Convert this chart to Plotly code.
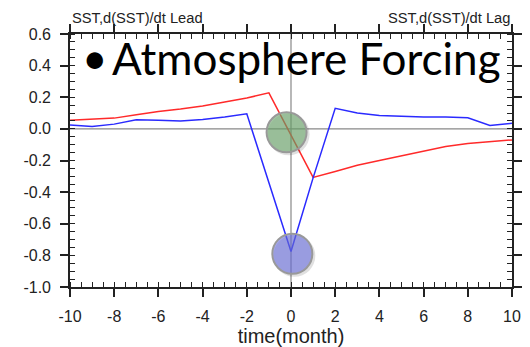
import plotly.graph_objects as go

months = list(range(-10, 11))
red_vals = [0.055, 0.060, 0.068, 0.090, 0.110, 0.125, 0.145, 0.170, 0.195, 0.228, -0.040,
            -0.307, -0.270, -0.230, -0.200, -0.170, -0.140, -0.112, -0.092, -0.080, -0.070]
blue_vals = [0.025, 0.015, 0.030, 0.057, 0.055, 0.050, 0.060, 0.075, 0.095, -0.340, -0.775,
             -0.310, 0.130, 0.100, 0.085, 0.080, 0.075, 0.075, 0.070, 0.022, 0.035]
x_ticks = list(range(-10, 11, 2))
y_ticks = [0.6, 0.4, 0.2, 0.0, -0.2, -0.4, -0.6, -0.8, -1.0]
y_labels = ["0.6", "0.4", "0.2", "0.0", "-0.2", "-0.4", "-0.6", "-0.8", "-1.0"]
# highlight circles (data coords of centres)
green_c = (-0.2, -0.022)
blue_c = (0.06, -0.79)

fig = go.Figure()
fig.add_trace(go.Scatter(x=months, y=red_vals, mode="lines",
                         line=dict(color="#ff2a2a", width=1.5), showlegend=False))
fig.add_trace(go.Scatter(x=months, y=blue_vals, mode="lines",
                         line=dict(color="#2a2aff", width=1.5), showlegend=False))
# dummy traces for top/right axes
fig.add_trace(go.Scatter(x=[None], y=[None], xaxis="x2", yaxis="y2", showlegend=False))

tickfont = dict(family="Liberation Sans, Arial", size=16, color="#222")
axis_common = dict(showgrid=False, zeroline=False, showline=True, linecolor="#222",
                   linewidth=1.6, ticks="outside", ticklen=8, tickwidth=1.6, tickcolor="#222",
                   mirror=False, automargin=False)

fig.update_layout(
    width=530, height=347,
    margin=dict(l=70, r=18, t=34, b=60),
    plot_bgcolor="white", paper_bgcolor="white",
    xaxis=dict(range=[-10, 10], tickvals=x_ticks, ticktext=[str(v) for v in x_ticks],
               tickfont=tickfont, ticklabelstandoff=6,
               minor=dict(dtick=0.5, ticks="inside", ticklen=5, tickwidth=1, tickcolor="#222"),
               title=dict(text="time(month)", font=dict(family="Liberation Sans, Arial", size=20, color="#222"),
                          standoff=2),
               **axis_common),
    yaxis=dict(range=[-1.0, 0.6], tickvals=y_ticks, ticktext=y_labels,
               tickfont=tickfont, ticklabelstandoff=6,
               minor=dict(dtick=0.05, ticks="inside", ticklen=5, tickwidth=1, tickcolor="#222"),
               **axis_common),
    xaxis2=dict(range=[-10, 10], overlaying="x", side="top", tickvals=x_ticks, showticklabels=False,
                minor=dict(dtick=0.5, ticks="inside", ticklen=5, tickwidth=1, tickcolor="#222"),
                **axis_common),
    yaxis2=dict(range=[-1.0, 0.6], overlaying="y", side="right", tickvals=y_ticks, showticklabels=False,
                minor=dict(dtick=0.05, ticks="inside", ticklen=5, tickwidth=1, tickcolor="#222"),
                **axis_common),
)

# zero reference lines
fig.add_shape(type="line", xref="paper", yref="y", x0=0, x1=1, y0=0, y1=0,
              line=dict(color="#888", width=1.2), layer="below")
fig.add_shape(type="line", xref="x", yref="paper", x0=0, x1=0, y0=0, y1=1,
              line=dict(color="#888", width=1.2), layer="below")

def circle(cx, cy, fill, r=20):
    # shadow
    fig.add_shape(type="circle", xref="x", yref="y", xsizemode="pixel", ysizemode="pixel",
                  xanchor=cx, yanchor=cy, x0=-r + 1, x1=r + 3, y0=-r - 3, y1=r - 1,
                  fillcolor="rgba(0,0,0,0.12)", line=dict(width=0))
    fig.add_shape(type="circle", xref="x", yref="y", xsizemode="pixel", ysizemode="pixel",
                  xanchor=cx, yanchor=cy, x0=-r, x1=r, y0=-r, y1=r,
                  fillcolor=fill, line=dict(color="#999", width=2))

circle(green_c[0], green_c[1], "rgba(110,170,110,0.62)")
circle(blue_c[0], blue_c[1], "rgba(110,115,225,0.62)")

titlefont = dict(family="Liberation Sans, Arial", size=14.7, color="#222")
fig.add_annotation(text="SST,d(SST)/dt Lead", xref="paper", yref="paper", x=0, y=1,
                   xanchor="left", yanchor="bottom", yshift=6, showarrow=False, font=titlefont)
fig.add_annotation(text="SST,d(SST)/dt Lag", xref="paper", yref="paper", x=1, y=1,
                   xanchor="right", yanchor="bottom", yshift=6, showarrow=False, font=titlefont)

bigfont = dict(family="Lato, Open Sans", size=44, color="black")
fig.add_annotation(text="•", xref="paper", yref="paper", x=(80 - 70) / 442, y=1 - (57 - 34) / 253,
                   xanchor="left", yanchor="middle", showarrow=False, font=bigfont)
fig.add_annotation(text="Atmosphere Forcing", xref="paper", yref="paper", x=(110 - 70) / 442,
                   y=1 - (58 - 34) / 253, xanchor="left", yanchor="middle", showarrow=False, font=bigfont)

fig.write_html("out.html")
